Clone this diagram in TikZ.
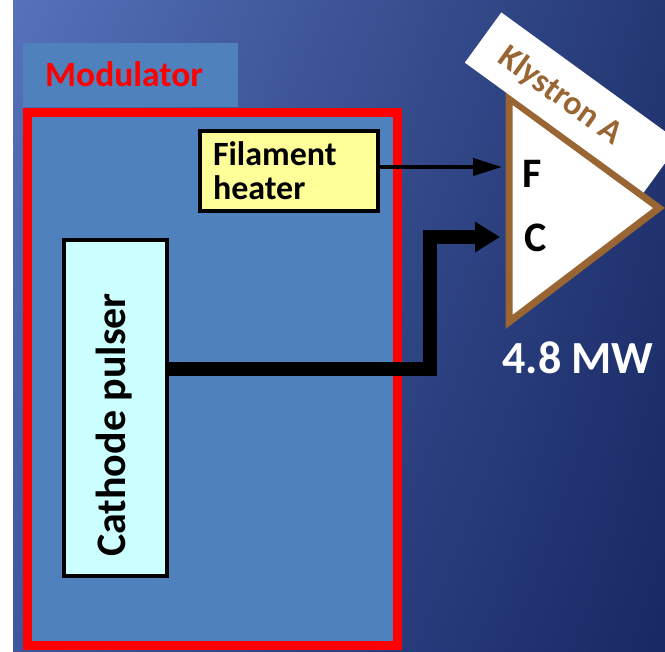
\documentclass[tikz,border=0pt]{standalone}
\usepackage{fontspec}
\setmainfont{Carlito}
\usetikzlibrary{arrows.meta,shadings}
\definecolor{boxblue}{RGB}{79,129,189}
\definecolor{kbrown}{RGB}{153,102,51}
\definecolor{hyellow}{RGB}{255,255,153}
\definecolor{pcyan}{RGB}{204,255,255}
\definecolor{bgul}{RGB}{86,114,186}
\definecolor{bgur}{RGB}{36,56,116}
\definecolor{bgll}{RGB}{62,86,158}
\definecolor{bglr}{RGB}{24,40,100}
\tikzset{
  blockbox/.style={draw=black, line width=4pt, inner sep=0pt},
  bold/.style={font=\bfseries\fontsize{#1}{#1}\selectfont, inner sep=0pt},
}
\begin{document}
\begin{tikzpicture}[x=1pt,y=-1pt]
\useasboundingbox (0,0) rectangle (665,652);
\fill[white] (0,0) rectangle (665,652);
\shade[upper left=bgul, upper right=bgur, lower left=bgll, lower right=bglr] (13,0) rectangle (665,652);
% modulator
\node[draw=red, line width=9pt, fill=boxblue, minimum width=370pt, minimum height=533pt, inner sep=0pt] (modulator) at (212,379) {};
\fill[boxblue] (23,43) rectangle (238,107);
\node[bold=35.5, text=red, anchor=base west] (modlabel) at (45,87) {Modulator};
% blocks
\node[blockbox, fill=hyellow, minimum width=178pt, minimum height=80pt, text width=152pt, inner xsep=13pt, align=left, font=\bfseries\fontsize{34}{34}\selectfont] (heater) at (289,171) {Filament\\heater};
\node[blockbox, fill=pcyan, minimum width=103pt, minimum height=336pt] (pulser) at (115.5,408) {};
\node[bold=42, rotate=90] (ptext) at (114,425) {Cathode pulser};
% klystron
\draw[kbrown, line width=7pt, fill=white, line join=miter] (509,98) coordinate (kt) -- (509,322) coordinate (kb) -- (659,208) coordinate (kr) -- cycle;
\node[fill=white, rotate=-36, minimum width=221pt, minimum height=62pt, inner sep=0pt] (klabelbox) at (572.5,102.5) {};
\node[bold=34, text=kbrown, rotate=-36] (klabel) at (560,96) {Klystron A};
\node[bold=42] (fF) at (532,174) {F};
\node[bold=42] (fC) at (536,237.5) {C};
\node[bold=46, text=white] (power) at (578,358) {4.8 MW};
% connectors
\coordinate (Fin) at (502,167);
\coordinate (Cin) at (500,237);
\coordinate (bend) at (430,369);
\draw[line width=4pt, -{Triangle[length=29pt,width=17pt]}] (heater.east |- Fin) -- (Fin);
\draw[line width=14pt, line join=miter, -{Triangle[length=25pt,width=29pt]}] (pulser.east |- bend) -- (bend) -- (bend |- Cin) -- (Cin);
\end{tikzpicture}
\end{document}
